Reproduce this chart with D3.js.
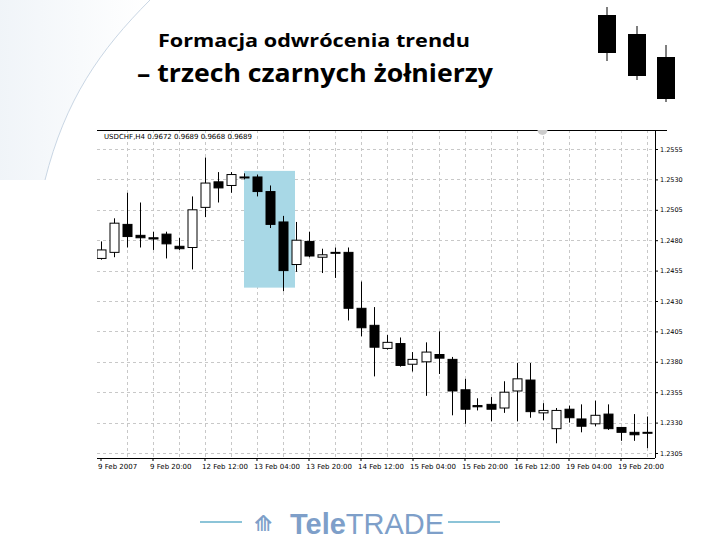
<!DOCTYPE html><html><head><meta charset="utf-8"><script src="https://cdn.jsdelivr.net/npm/d3@7"></script>
<style>body{margin:0;background:#fff}svg{display:block}</style></head><body><svg id="c" width="728" height="546"></svg>
<script>
const opens =[1.2465,1.2470,1.2493,1.2484,1.2482,1.2485,1.2475,1.2474,1.2507,1.2528,1.2525,1.2532,1.2532,1.2520,1.2495,1.2460,1.2479,1.2466,1.2470,1.2470,1.2424,1.2410,1.2391,1.2395,1.2378,1.2380,1.2386,1.2382,1.2357,1.2344,1.2345,1.2342,1.2356,1.2365,1.2338,1.2325,1.2341,1.2333,1.2329,1.2337,1.2326,1.2322,1.2322];
const highs =[1.2479,1.2498,1.2519,1.2511,1.2487,1.2487,1.2482,1.2516,1.2548,1.2536,1.2536,1.2535,1.2534,1.2525,1.2500,1.2495,1.2487,1.2473,1.2474,1.2474,1.2446,1.2425,1.2402,1.2400,1.2388,1.2396,1.2405,1.2384,1.2366,1.2350,1.2351,1.2364,1.2379,1.2379,1.2346,1.2342,1.2344,1.2345,1.2348,1.2345,1.2326,1.2337,1.2335];
const lows  =[1.2464,1.2466,1.2474,1.2474,1.2472,1.2465,1.2472,1.2456,1.2499,1.2511,1.2519,1.2530,1.2516,1.2490,1.2438,1.2454,1.2466,1.2453,1.2449,1.2414,1.2401,1.2368,1.2390,1.2376,1.2372,1.2352,1.2370,1.2336,1.2329,1.2340,1.2331,1.2338,1.2331,1.2334,1.2332,1.2313,1.2330,1.2322,1.2327,1.2324,1.2315,1.2315,1.2309];
const closes=[1.2472,1.2494,1.2483,1.2482,1.2481,1.2477,1.2473,1.2505,1.2527,1.2523,1.2534,1.2532,1.2520,1.2493,1.2455,1.2480,1.2467,1.2468,1.2470,1.2424,1.2408,1.2392,1.2396,1.2377,1.2382,1.2388,1.2383,1.2356,1.2341,1.2343,1.2341,1.2355,1.2366,1.2339,1.2340,1.2340,1.2334,1.2327,1.2336,1.2325,1.2322,1.2320,1.2322];
const yTicks=[1.2555,1.2530,1.2505,1.2480,1.2455,1.2430,1.2405,1.2380,1.2355,1.2330,1.2305];
const xLabels=["9 Feb 2007","9 Feb 20:00","12 Feb 12:00","13 Feb 04:00","13 Feb 20:00","14 Feb 12:00","15 Feb 04:00","15 Feb 20:00","16 Feb 12:00","19 Feb 04:00","19 Feb 20:00"];
const highlight={from:12,to:14,top:1.2537,bottom:1.2441};
const header="USDCHF,H4  0.9672 0.9689 0.9668 0.9689";

const svg=d3.select("#c");
const defs=svg.append("defs");
const g=defs.append("linearGradient").attr("id","bg").attr("x1",0).attr("x2",1);
g.append("stop").attr("offset",0).attr("stop-color","#e6edf4");
g.append("stop").attr("offset",1).attr("stop-color","#ffffff");
svg.append("path").attr("d","M0,0 L150,0 C100,50 65,100 45,180 L0,180 Z").attr("fill","url(#bg)").attr("opacity",0.6);
svg.append("path").attr("d","M150,0 C100,50 65,100 45,180").attr("fill","none").attr("stroke","#c9d6e4").attr("stroke-width",1);
defs.append("clipPath").attr("id","pc").append("rect").attr("x",97).attr("y",130).attr("width",558).attr("height",328);

const L=97,R=655,T=130,B=458;
const x=d3.scaleLinear().domain([0,42]).range([100.5,646.5]);
const y=d3.scaleLinear().domain([1.2305,1.2555]).range([453,149]);
const n=opens.length;

svg.append("rect").attr("x",L).attr("y",T).attr("width",R-L).attr("height",B-T).attr("fill","#fff");
const gg=svg.append("g").attr("stroke","#c8c8c8").attr("stroke-dasharray","3,3").attr("stroke-width",1);
yTicks.forEach(t=>gg.append("line").attr("x1",L).attr("x2",R).attr("y1",Math.round(y(t))+.5).attr("y2",Math.round(y(t))+.5));
for(let i=2;i<n;i+=2) gg.append("line").attr("x1",Math.round(x(i))+.5).attr("x2",Math.round(x(i))+.5).attr("y1",T).attr("y2",B);

svg.append("rect").attr("x",x(highlight.from)-12.5).attr("width",x(highlight.to)-x(highlight.from)+25)
 .attr("y",y(highlight.top)).attr("height",y(highlight.bottom)-y(highlight.top)).attr("fill","#a8d8e6");

svg.append("line").attr("x1",L).attr("x2",R+12).attr("y1",T+.5).attr("y2",T+.5).attr("stroke","#000");
svg.append("line").attr("x1",R+.5).attr("x2",R+.5).attr("y1",T).attr("y2",B).attr("stroke","#000");
svg.append("line").attr("x1",L).attr("x2",R).attr("y1",B+.5).attr("y2",B+.5).attr("stroke","#000");
svg.append("path").attr("d",`M${x(34)-5},${T} a5,5 0 0,0 10,0`).attr("fill","#ccc");

const ya=d3.axisRight(y).tickValues(yTicks).tickFormat(d3.format(".4f")).tickSize(3);
svg.append("g").attr("transform",`translate(${R},0)`).call(ya).call(a=>{a.select(".domain").remove();a.selectAll("text").attr("font-size",6.5).attr("font-family","DejaVu Sans").attr("x",5);});
const labIdx=xLabels.map((d,i)=>i*4);
const xa=d3.axisBottom(x).tickValues(labIdx).tickFormat((d,i)=>xLabels[i]).tickSize(3);
svg.append("g").attr("transform",`translate(0,${B})`).call(xa).call(a=>{a.select(".domain").remove();a.selectAll("text").attr("font-size",7).attr("font-family","DejaVu Sans").attr("text-anchor","start").attr("dx",-3).attr("y",6);});

svg.append("text").attr("x",104).attr("y",139).attr("font-size",7).attr("font-family","DejaVu Sans").text(header);

const cg=svg.append("g").attr("clip-path","url(#pc)");
for(let i=0;i<n;i++){
  const cx=Math.round(x(i))+.5, up=closes[i]>=opens[i];
  cg.append("line").attr("x1",cx).attr("x2",cx).attr("y1",y(highs[i])).attr("y2",y(lows[i])).attr("stroke","#000");
  const top=y(Math.max(opens[i],closes[i])), bot=y(Math.min(opens[i],closes[i]));
  cg.append("rect").attr("x",cx-4.5).attr("width",9).attr("y",top).attr("height",Math.max(1,bot-top))
    .attr("fill",up?"#fff":"#000").attr("stroke","#000").attr("stroke-width",1);
}

svg.append("text").attr("x",158).attr("y",47).attr("font-family","Open Sans").attr("font-weight","bold").attr("font-size",18).attr("textLength",312).attr("lengthAdjust","spacingAndGlyphs").text("Formacja odwrócenia trendu");
svg.append("text").attr("x",137).attr("y",82).attr("font-family","Open Sans").attr("font-weight","bold").attr("font-size",25).attr("textLength",356).attr("lengthAdjust","spacingAndGlyphs").text("– trzech czarnych żołnierzy");

const deco=[[607,7,15,53,61],[637,26,34,76,80],[666,45,57,99,102]];
deco.forEach(d=>{svg.append("line").attr("x1",d[0]).attr("x2",d[0]).attr("y1",d[1]).attr("y2",d[4]).attr("stroke","#000");
 svg.append("rect").attr("x",d[0]-9).attr("width",18).attr("y",d[2]).attr("height",d[3]-d[2]).attr("fill","#000");});

svg.append("line").attr("x1",200).attr("x2",242).attr("y1",522).attr("y2",522).attr("stroke","#8cc4d8").attr("stroke-width",2);
svg.append("line").attr("x1",448).attr("x2",500).attr("y1",522).attr("y2",522).attr("stroke","#8cc4d8").attr("stroke-width",2);
svg.append("text").attr("x",254).attr("y",531).attr("font-size",22).attr("fill","#7e9fc9").attr("font-weight","bold").attr("font-family","DejaVu Sans").text("⟰");
const lt=svg.append("text").attr("x",290).attr("y",534).attr("font-size",30).attr("fill","#7e9fc9").attr("font-family","Liberation Sans Narrow, Liberation Sans").attr("textLength",154).attr("lengthAdjust","spacingAndGlyphs");
lt.append("tspan").attr("font-weight","bold").text("Tele");
lt.append("tspan").text("TRADE");
</script></body></html>
